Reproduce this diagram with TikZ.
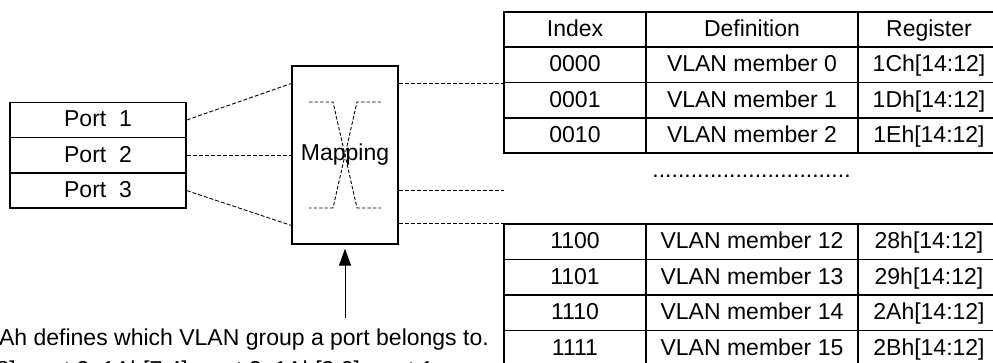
\documentclass[tikz,border=0pt]{standalone}
\usepackage{fontspec}
\setmainfont{Liberation Sans}
\usetikzlibrary{arrows.meta,calc}
\begin{document}
\begin{tikzpicture}[x=1pt,y=-1pt,
  every node/.style={font=\fontsize{23}{27}\selectfont},
  cell/.style={draw,line width=1.5pt,minimum height=35.3pt,inner sep=0pt,text height=16.5pt,text depth=2.5pt,anchor=center},
  portbox/.style={draw,line width=1.5pt,minimum width=176pt,minimum height=35.3pt,inner sep=0pt,text height=16.5pt,text depth=2.5pt},
  mapbox/.style={draw,line width=1.3pt,minimum width=106pt,minimum height=178pt,inner sep=0pt},
  conn/.style={dash pattern=on 4pt off 2pt,line width=0.9pt},
  xline/.style={dash pattern=on 3.5pt off 2pt,line width=0.9pt},
  note/.style={anchor=base east,inner sep=0pt}]
\useasboundingbox (0,0) rectangle (993,363);
\clip (0,0) rectangle (993,363);

% ports
\node[portbox] (port1) at (98,120) {Port\ \ 1};
\node[portbox] (port2) at (98,155.3) {Port\ \ 2};
\node[portbox] (port3) at (98,190.6) {Port\ \ 3};

% mapping
\node[mapbox] (map) at (345,155) {};
\draw[xline] ($(map.center)+(-36,-53)$) -- ($(map.center)+(-12,-53)$) -- ($(map.center)+(12,53)$) -- ($(map.center)+(36,53)$);
\draw[xline] ($(map.center)+(36,-53)$) -- ($(map.center)+(12,-53)$) -- ($(map.center)+(-12,53)$) -- ($(map.center)+(-36,53)$);
\node[inner sep=0pt] (maptext) at (map.center) {Mapping};

% top table
\foreach \r/\a/\b/\c in {0/Index/Definition/Register,1/0000/VLAN member 0/1Ch[14:12],2/0001/VLAN member 1/1Dh[14:12],3/0010/VLAN member 2/1Eh[14:12]}{
  \node[cell,minimum width=142pt] (t\r-1) at (575,{12+35.25*(\r+0.5)}) {\a};
  \node[cell,minimum width=212pt] (t\r-2) at (752,{12+35.25*(\r+0.5)}) {\b};
  \node[cell,minimum width=142pt] (t\r-3) at (929,{12+35.25*(\r+0.5)}) {\c};
}
% bottom table
\foreach \r/\a/\b/\c in {0/1100/VLAN member 12/28h[14:12],1/1101/VLAN member 13/29h[14:12],2/1110/VLAN member 14/2Ah[14:12],3/1111/VLAN member 15/2Bh[14:12]}{
  \node[cell,minimum width=142pt] (b\r-1) at (575,{224+35.5*(\r+0.5)}) {\a};
  \node[cell,minimum width=212pt] (b\r-2) at (752,{224+35.5*(\r+0.5)}) {\b};
  \node[cell,minimum width=142pt] (b\r-3) at (929,{224+35.5*(\r+0.5)}) {\c};
}
\node[anchor=base,inner sep=0pt] (dots) at (751.5,178) {...............................};

% connectors
\draw[conn] (port1.east) -- ($(map.north west)!0.101!(map.south west)$);
\draw[conn] (port2.east) -- (map.west |- port2.east);
\draw[conn] (port3.east) -- ($(map.north west)!0.893!(map.south west)$);
\draw[conn] (map.east |- t1-1.south west) -- (t1-1.south west);
\coordinate (midend) at (504,190);
\draw[conn] (map.east |- midend) -- (midend);
\draw[conn] (map.east |- b0-1.north west) -- (b0-1.north west);

% arrow
\coordinate (arrowstart) at (345,318);
\draw[-{Triangle[length=17pt,width=12pt]},line width=1pt,shorten >=4pt] (arrowstart) -- (map.south);

% note
\node[note] (note1) at (489,345) {Ah defines which VLAN group a port belongs to.};
\node[note] (note2) at (434,377) {8]: port 3, 1Ah[7:4]: port 2, 1Ah[3:0]: port 1};
\end{tikzpicture}
\end{document}
